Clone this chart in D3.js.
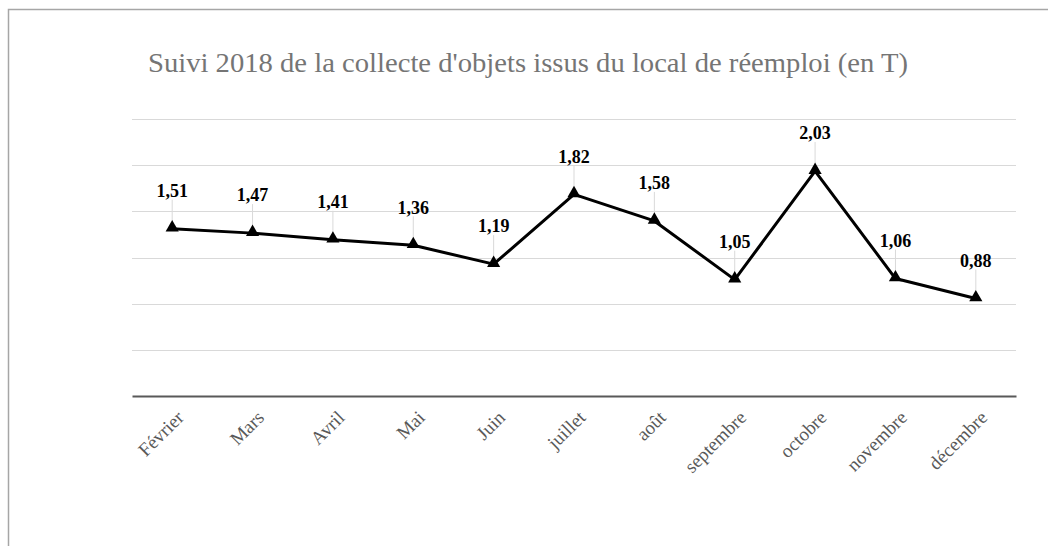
<!DOCTYPE html>
<html>
<head>
<meta charset="utf-8">
<script src="https://cdn.jsdelivr.net/npm/d3@7"></script>
<style>
  body { margin: 0; background: #fff; }
  svg { display: block; font-family: "Liberation Serif", "Times New Roman", serif; }
</style>
</head>
<body>
<script>
// data
var months = ["Février", "Mars", "Avril", "Mai", "Juin", "juillet", "août",
              "septembre", "octobre", "novembre", "décembre"];
var tonnes = [1.51, 1.47, 1.41, 1.36, 1.19, 1.82, 1.58, 1.05, 2.03, 1.06, 0.88];
var title = "Suivi 2018 de la collecte d'objets issus du local de réemploi (en T)";

var width = 1048,
    height = 546,
    plotLeft = 132,
    plotRight = 1016,
    plotTop = 119,
    plotBottom = 396;

var svg = d3.select("body").append("svg")
    .attr("width", width)
    .attr("height", height);

// frame (only top and left visible)
svg.append("path")
    .attr("d", "M8.5," + height + "V9.5H" + width)
    .attr("fill", "none")
    .attr("stroke", "#a6a6a6")
    .attr("stroke-width", 1.5);

svg.append("text")
    .attr("x", 148)
    .attr("y", 72)
    .attr("font-size", 28)
    .attr("fill", "#757575")
    .attr("textLength", 760)
    .attr("lengthAdjust", "spacingAndGlyphs")
    .text(title);

var x = d3.scaleBand().domain(months).range([plotLeft, plotRight]);
var y = d3.scaleLinear().domain([0, 2.5]).range([plotBottom, plotTop]);

// gridlines: 6 equal steps
var gridVals = d3.range(1, 7).map(function(i) { return i * 2.5 / 6; });
svg.append("g")
    .selectAll("line")
    .data(gridVals)
    .enter().append("line")
    .attr("x1", plotLeft)
    .attr("x2", plotRight)
    .attr("y1", function(d) { return Math.round(y(d)) + 0.5; })
    .attr("y2", function(d) { return Math.round(y(d)) + 0.5; })
    .attr("stroke", "#d9d9d9")
    .attr("stroke-width", 1);

// category axis
var xAxis = svg.append("g")
    .attr("transform", "translate(0," + plotBottom + ")")
    .call(d3.axisBottom(x).tickSize(0).tickPadding(0));
xAxis.attr("font-family", null).attr("font-size", null);
xAxis.select(".domain")
    .attr("stroke", "#595959")
    .attr("stroke-width", 2);
xAxis.selectAll("text")
    .attr("font-size", 19)
    .attr("fill", "#595959")
    .attr("text-anchor", "end")
    .attr("dy", "0.35em")
    .attr("transform", "translate(8,18) rotate(-45)");

var cx = function(d, i) { return x(months[i]) + x.bandwidth() / 2; };

// leader lines
svg.append("g")
    .selectAll("line")
    .data(tonnes)
    .enter().append("line")
    .attr("x1", cx)
    .attr("x2", cx)
    .attr("y1", function(d) { return y(d) - 6; })
    .attr("y2", function(d) { return y(d) - 29; })
    .attr("stroke", "#d9d9d9")
    .attr("stroke-width", 1);

var line = d3.line()
    .x(cx)
    .y(function(d) { return y(d); });

svg.append("path")
    .datum(tonnes)
    .attr("d", line)
    .attr("fill", "none")
    .attr("stroke", "#000")
    .attr("stroke-width", 3)
    .attr("stroke-linejoin", "round");

svg.append("g")
    .selectAll("path")
    .data(tonnes)
    .enter().append("path")
    .attr("d", d3.symbol().type(d3.symbolTriangle).size(75))
    .attr("transform", function(d, i) { return "translate(" + cx(d, i) + "," + (y(d) - 1) + ")"; })
    .attr("fill", "#000");

svg.append("g")
    .selectAll("text")
    .data(tonnes)
    .enter().append("text")
    .attr("x", cx)
    .attr("y", function(d) { return y(d) - 38; })
    .attr("dy", "0.35em")
    .attr("text-anchor", "middle")
    .attr("font-size", 18)
    .attr("font-weight", "bold")
    .attr("fill", "#000")
    .text(function(d) { return d3.format(".2f")(d).replace(".", ","); });
</script>
</body>
</html>
